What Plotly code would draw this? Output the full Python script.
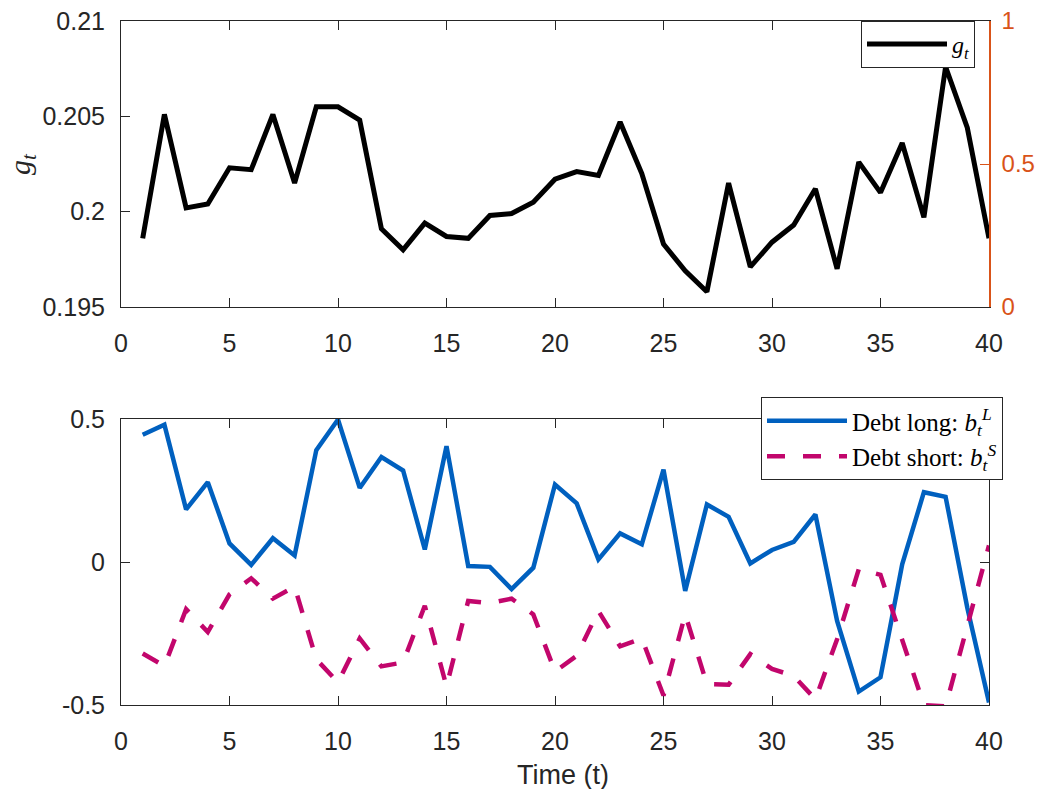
import plotly.graph_objects as go

# ---------------- data ----------------
t = [1, 2, 3, 4, 5, 6, 7, 8, 9, 10, 11, 12, 13, 14, 15, 16, 17, 18, 19, 20,
     21, 22, 23, 24, 25, 26, 27, 28, 29, 30, 31, 32, 33, 34, 35, 36, 37, 38, 39, 40]

g_t = [0.1986, 0.2051, 0.2002, 0.2004, 0.2023, 0.2022, 0.2051, 0.2015, 0.2055, 0.2055,
       0.2048, 0.1991, 0.1980, 0.1994, 0.1987, 0.1986, 0.1998, 0.1999, 0.2005, 0.2017,
       0.2021, 0.2019, 0.2047, 0.2020, 0.1983, 0.1969, 0.1958, 0.2015, 0.1971, 0.1984,
       0.1993, 0.2012, 0.1970, 0.2026, 0.2010, 0.2036, 0.1997, 0.2076, 0.2044, 0.1986]

debt_long = [0.445, 0.480, 0.184, 0.279, 0.065, -0.010, 0.083, 0.023, 0.391, 0.498,
             0.259, 0.367, 0.320, 0.044, 0.405, -0.014, -0.017, -0.095, -0.020, 0.271,
             0.205, 0.009, 0.100, 0.062, 0.323, -0.101, 0.201, 0.158, -0.005, 0.042,
             0.070, 0.166, -0.206, -0.453, -0.403, -0.008, 0.244, 0.228, -0.160, -0.491]

debt_short = [-0.320, -0.364, -0.165, -0.245, -0.113, -0.057, -0.128, -0.086, -0.340, -0.421,
              -0.267, -0.365, -0.351, -0.153, -0.435, -0.136, -0.144, -0.128, -0.183, -0.383,
              -0.328, -0.171, -0.295, -0.267, -0.467, -0.183, -0.427, -0.429, -0.322, -0.374,
              -0.398, -0.480, -0.270, -0.025, -0.045, -0.270, -0.500, -0.505, -0.220, 0.058]

x_ticks = [0, 5, 10, 15, 20, 25, 30, 35, 40]
top_ticks = [0.195, 0.2, 0.205, 0.21]
top_ticktext = ["0.195", "0.2", "0.205", "0.21"]
right_ticks = [0, 0.5, 1]
right_ticktext = ["0", "0.5", "1"]
bot_ticks = [-0.5, 0, 0.5]
bot_ticktext = ["-0.5", "0", "0.5"]

# ---------------- style ----------------
W, H = 1037, 789
AX = "#262626"
ORANGE = "#D95319"
BLUE = "#0060BF"
PINK = "#C2066C"
TICKFONT = dict(family="Liberation Sans, Arial, sans-serif", size=25, color=AX)
SERIF = "Liberation Serif, Times New Roman, serif"

x_dom = [121 / W, 989 / W]
top_dom = [1 - 307 / H, 1 - 21 / H]
bot_dom = [1 - 705 / H, 1 - 419 / H]

fig = go.Figure()

fig.add_trace(go.Scatter(x=t, y=g_t, mode="lines", name="<i>g<sub>t</sub></i>",
                         line=dict(color="black", width=5), xaxis="x", yaxis="y",
                         legend="legend"))
# carrier for the right (orange) axis
fig.add_trace(go.Scatter(x=[None], y=[None], mode="lines", showlegend=False,
                         xaxis="x", yaxis="y3", hoverinfo="skip"))
fig.add_trace(go.Scatter(x=t, y=debt_long, mode="lines",
                         name="Debt long: <i>b</i><sub><i>t</i></sub><sup><i>L</i></sup>",
                         line=dict(color=BLUE, width=4.5), xaxis="x2", yaxis="y2",
                         legend="legend2"))
fig.add_trace(go.Scatter(x=t, y=debt_short, mode="lines",
                         name="Debt short: <i>b</i><sub><i>t</i></sub><sup><i>S</i></sup>",
                         line=dict(color=PINK, width=4.5, dash="18px,18px"),
                         xaxis="x2", yaxis="y2", legend="legend2"))

common_x = dict(range=[0, 40], tickvals=x_ticks, ticks="inside", ticklen=9,
                tickcolor=AX, showline=True, linecolor=AX, linewidth=1,
                mirror="ticks", showgrid=False, zeroline=False, tickfont=TICKFONT,
                ticklabelstandoff=14, automargin=False)

fig.update_layout(
    width=W, height=H,
    margin=dict(l=0, r=0, t=0, b=0, autoexpand=False),
    paper_bgcolor="white", plot_bgcolor="white",
    xaxis=dict(domain=x_dom, anchor="y", **common_x),
    yaxis=dict(domain=top_dom, anchor="x", range=[0.195, 0.21], tickvals=top_ticks,
               ticktext=top_ticktext, ticks="inside", ticklen=9, tickcolor=AX,
               showline=True, linecolor=AX, linewidth=1, mirror=False,
               showgrid=False, zeroline=False, tickfont=TICKFONT, ticklabelstandoff=10,
               automargin=False),
    yaxis3=dict(overlaying="y", side="right", anchor="x", range=[0, 1],
                tickvals=right_ticks, ticktext=right_ticktext, ticks="inside",
                ticklen=9, tickcolor=ORANGE, showline=True, linecolor=ORANGE,
                linewidth=1.5, showgrid=False, zeroline=False,
                tickfont=dict(family=TICKFONT["family"], size=24, color=ORANGE),
                ticklabelstandoff=6, automargin=False),
    xaxis2=dict(domain=x_dom, anchor="y2", **common_x),
    yaxis2=dict(domain=bot_dom, anchor="x2", range=[-0.5, 0.5], tickvals=bot_ticks,
                ticktext=bot_ticktext, ticks="inside", ticklen=9, tickcolor=AX,
                showline=True, linecolor=AX, linewidth=1, mirror="ticks",
                showgrid=False, zeroline=False, tickfont=TICKFONT, ticklabelstandoff=10,
                automargin=False),
    legend=dict(x=975 / W, xanchor="right", y=1 - 21 / H, yanchor="top",
                bgcolor="white", bordercolor=AX, borderwidth=1,
                font=dict(family=SERIF, size=24, color="black"), itemwidth=80),
    legend2=dict(x=1003 / W, xanchor="right", y=1 - 397 / H, yanchor="top",
                 bgcolor="white", bordercolor=AX, borderwidth=1,
                 font=dict(family=SERIF, size=25, color="black"), itemwidth=80,
                 tracegroupgap=0),
    annotations=[
        dict(text="Time (t)", x=563 / W, y=1 - 775 / H, xref="paper", yref="paper",
             xanchor="center", yanchor="middle", showarrow=False,
             font=dict(family=TICKFONT["family"], size=27, color=AX)),
        dict(text="<i>g<sub>t</sub></i>", x=22 / W, y=1 - 164 / H, xref="paper",
             yref="paper", xanchor="center", yanchor="middle", showarrow=False,
             textangle=-90, font=dict(family=SERIF, size=30, color=AX)),
    ],
    showlegend=True,
)

fig.write_html("out.html")
